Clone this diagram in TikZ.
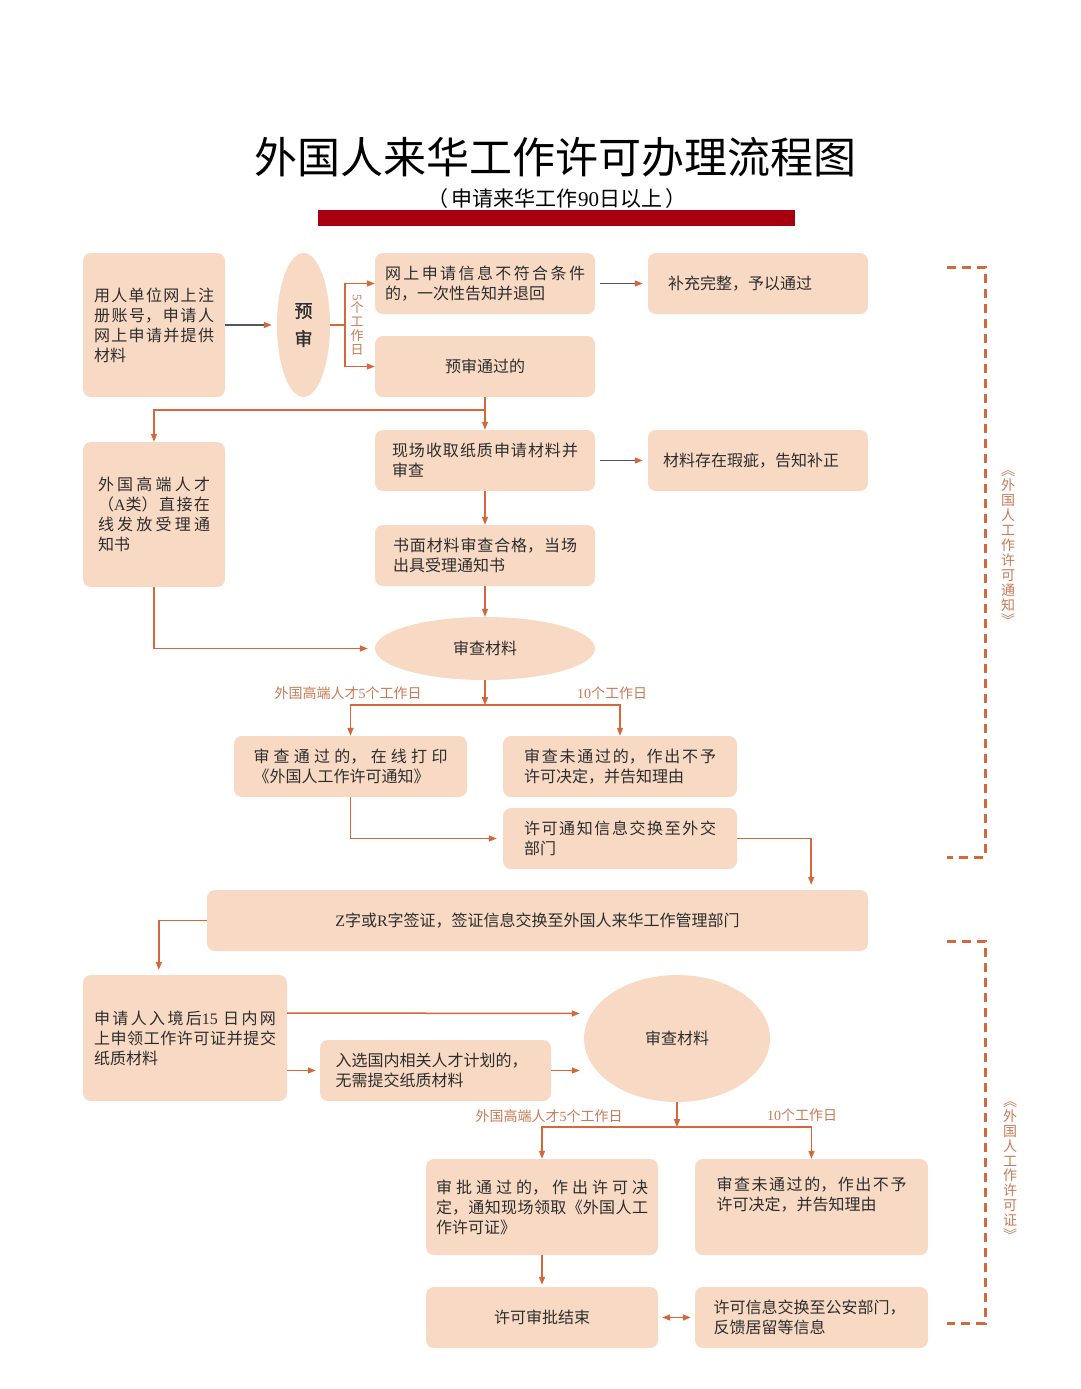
\documentclass[tikz,border=0pt]{standalone}
\usepackage{fontspec}
\usepackage{graphicx}
\usetikzlibrary{shapes.geometric,arrows.meta,calc}
\setmainfont{Noto Sans CJK SC}
\newfontfamily\latf{Liberation Serif}
\newfontfamily\boldcjk[FakeBold=1.5]{Noto Sans CJK SC}
\newcommand\lat[1]{{\latf #1}}
\XeTeXlinebreaklocale "zh"
\XeTeXlinebreakskip=0pt plus 1fil
\hbadness=10000 \vbadness=10000 \hfuzz=6pt
\setlength\parindent{0pt}
\definecolor{boxfill}{RGB}{248,218,196}
\definecolor{arrc}{RGB}{212,104,58}
\definecolor{grayl}{RGB}{80,86,100}
\definecolor{lblc}{RGB}{200,122,86}
\definecolor{txtc}{RGB}{45,45,45}
\definecolor{barred}{RGB}{166,0,16}
\newcommand\bx{\fontsize{16}{20}\selectfont}
\newcommand\J[1]{\parfillskip=0pt plus 1fill\relax\leftskip=0pt\relax\rightskip=0pt\relax\noindent #1\par}
\newcommand\rl[1]{\rotatebox{-90}{#1}}
\tikzset{
  box/.style={fill=boxfill, rounded corners=8pt, inner sep=0pt, font=\bx, text=txtc},
  ell/.style={ellipse, fill=boxfill, inner sep=0pt, font=\bx, text=txtc},
  ln/.style={draw=arrc, line width=1.5pt},
  arr/.style={draw=arrc, line width=1.5pt, -{Triangle[length=8pt,width=6pt]}},
  garr/.style={draw=grayl, line width=1.3pt, -{Triangle[length=8pt,width=6pt,color=arrc]}},
  dbl/.style={draw=arrc, line width=1.5pt, {Triangle[length=8pt,width=6pt]}-{Triangle[length=8pt,width=6pt]}},
  lbl/.style={text=lblc, font=\fontsize{14}{14}\selectfont, inner sep=0pt},
  vlbl/.style={text=lblc, align=center, inner sep=0pt},
  brk/.style={draw=arrc, line width=3pt, dash pattern=on 9pt off 6pt}
}
\begin{document}
\begin{tikzpicture}[x=1pt,y=-1pt]
\fill[white] (0,0) rectangle (1080,1389);
\useasboundingbox (0,0) rectangle (1080,1389);

% title
\node[inner sep=0pt] (title) at (555,157) {\fontsize{43}{43}\selectfont 外国人来华工作许可办理流程图};
\fill[barred] (318,210) rectangle (795,226);
\node[inner sep=0pt] (sub) at (557,199) {\fontsize{21}{21}\selectfont （\hspace{4pt}申请来华工作\lat{90}日以上\hspace{4pt}）};

% boxes
\node[box, minimum width=142, minimum height=144, text width=120] (A) at (154,325) {\J{用人单位网上注\linebreak 册账号，申请人\linebreak 网上申请并提供\linebreak 材料}};
\node[ell, minimum width=53, minimum height=144, align=center, font=\boldcjk\fontsize{18}{28}\selectfont] (pre) at (303.5,325) {预\\审};
\node[box, minimum width=220, minimum height=61, text width=200] (B) at (485,283.5) {\J{网上申请信息不符合条件\linebreak 的，一次性告知并退回}};
\node[box, minimum width=220, minimum height=61] (C) at (485,366.5) {预审通过的};
\node[box, minimum width=220, minimum height=61, text width=180] (D) at (758,283.5) {\J{补充完整，予以通过}};
\node[box, minimum width=142, minimum height=145, text width=112] (E) at (154,514.5) {\J{外国高端人才\linebreak （\lat{A}类）直接在\linebreak 线发放受理通\linebreak 知书}};
\node[box, minimum width=220, minimum height=61, text width=186] (F) at (485,460.5) {\J{现场收取纸质申请材料并\linebreak 审查}};
\node[box, minimum width=220, minimum height=61, text width=190] (G) at (758,460.5) {\J{材料存在瑕疵，告知补正}};
\node[box, minimum width=220, minimum height=61, text width=184] (H) at (485,555.5) {\J{书面材料审查合格，当场\linebreak 出具受理通知书}};
\node[ell, minimum width=220, minimum height=63] (I) at (485,648.5) {审查材料};
\node[box, minimum width=233, minimum height=61, text width=194] (J) at (350.5,766.5) {\J{审查通过的，在线打印\linebreak 《外国人工作许可通知》}};
\node[box, minimum width=234, minimum height=61, text width=192] (K) at (620,766.5) {\J{审查未通过的，作出不予\linebreak 许可决定，并告知理由}};
\node[box, minimum width=234, minimum height=61, text width=192] (L) at (620,838.5) {\J{许可通知信息交换至外交\linebreak 部门}};
\node[box, minimum width=661, minimum height=61] (M) at (537.5,920.5) {\lat{Z}字或\lat{R}字签证，签证信息交换至外国人来华工作管理部门};
\node[box, minimum width=204, minimum height=126, text width=182] (N) at (185,1038) {\J{申请人入境后\lat{15} 日内网\linebreak 上申领工作许可证并提交\linebreak 纸质材料}};
\node[box, minimum width=231, minimum height=61, text width=200] (O) at (435.5,1070.5) {\J{入选国内相关人才计划的，\par 无需提交纸质材料}};
\node[ell, minimum width=186, minimum height=127] (P) at (677,1038.5) {审查材料};
\node[box, minimum width=232, minimum height=96, text width=212] (Q) at (542,1207) {\J{审批通过的，作出许可决\linebreak 定，通知现场领取《外国人工\linebreak 作许可证》}};
\node[box, minimum width=233, minimum height=96, text width=190] (R) at (811.5,1207) {\J{审查未通过的，作出不予\linebreak 许可决定，并告知理由\par\strut}};
\node[box, minimum width=232, minimum height=61] (S) at (542,1317.5) {许可审批结束};
\node[box, minimum width=233, minimum height=61, text width=196] (T) at (811.5,1317.5) {\J{许可信息交换至公安部门，\par 反馈居留等信息}};

% labels
\node[vlbl, font=\fontsize{13}{14}\selectfont] (l5) at (357,325) {\rl{\lat{5}}\\个\\工\\作\\日};
\node[lbl] (l1) at (348,693) {外国高端人才\lat{5}个工作日};
\node[lbl] (l2) at (612,693) {\lat{10}个工作日};
\node[lbl] (l3) at (549,1116) {外国高端人才\lat{5}个工作日};
\node[lbl] (l4) at (802,1115) {\lat{10}个工作日};
\node[vlbl, font=\fontsize{14}{15}\selectfont] (sl1) at (1008,548) {︽\\外\\国\\人\\工\\作\\许\\可\\通\\知\\︾};
\node[vlbl, font=\fontsize{14}{14.8}\selectfont] (sl2) at (1010,1171) {︽\\外\\国\\人\\工\\作\\许\\可\\证\\︾};

% connectors
\draw[garr, shorten >=5pt] (A.east) -- (pre.west);
\draw[ln] (pre.east) -- ++(15,0) coordinate (pj);
\draw[arr] (pj) |- (B.west);
\draw[arr] (pj) |- (C.west);
\draw[garr, shorten <=5pt, shorten >=5pt] (B.east) -- (D.west);
\draw[arr] (C.south) -- (F.north);
\coordinate (cb) at ($(C.south)+(0,13)$);
\draw[arr] (cb) -| (E.north);
\draw[garr, shorten <=5pt, shorten >=5pt] (F.east) -- (G.west);
\draw[arr] (F.south) -- (H.north);
\draw[arr] (H.south) -- (I.north);
\draw[arr, shorten >=7pt] (E.south) |- (I.west);
\coordinate (s1) at ($(I.south)+(0,25)$);
\draw[arr] (I.south) -- (s1);
\draw[arr] (s1) -| (J.north);
\draw[arr] (s1) -| (K.north);
\draw[arr, shorten >=6pt] (J.south) |- (L.west);
\draw[arr, shorten >=5pt] (L.east) -| ($(M.north east)+(-57,0)$);
\draw[arr, shorten >=5pt] (M.west) -| ($(N.north west)+(76,0)$);
\draw[arr] ($(N.east)+(0,-25)$) -- ($(P.west)+(-4,-25)$);
\draw[arr, shorten >=4pt] (N.east |- O.west) -- (O.west);
\draw[arr] (O.east) -- ($(P.west)+(-4,32)$);
\coordinate (s2) at ($(P.south)+(0,25)$);
\draw[arr] (P.south) -- (s2);
\draw[arr] (s2) -| (Q.north);
\draw[arr] (s2) -| (R.north);
\draw[arr, shorten >=2pt] (Q.south) -- (S.north);
\draw[dbl, shorten <=4pt, shorten >=4pt] (S.east) -- (T.west);

% brackets
\draw[brk] (947,267) -- (985,267) -- (985,857) -- (947,857);
\draw[brk] (947,941) -- (985,941) -- (985,1323) -- (947,1323);
\end{tikzpicture}
\end{document}
